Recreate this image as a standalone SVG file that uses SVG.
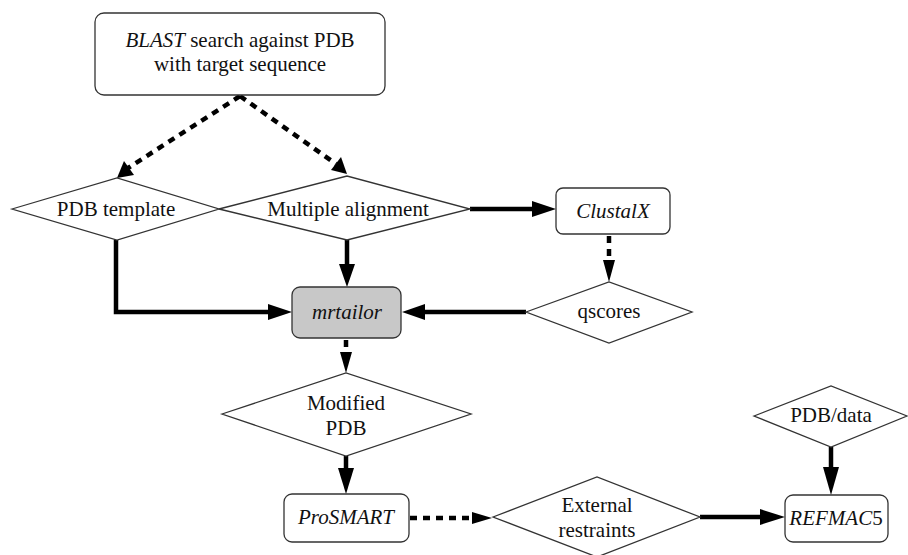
<svg xmlns="http://www.w3.org/2000/svg" width="908" height="555" viewBox="0 0 908 555">
<defs>
<style>
.box{fill:#fff;stroke:#333;stroke-width:1.3}
.gray{fill:#c8c8c8}
.dia{fill:#fff;stroke:#333;stroke-width:1.3}
.t{font-family:'Liberation Serif','Times New Roman',Times,'DejaVu Serif',serif;font-size:21px;fill:#111;text-anchor:middle}
.i{font-style:italic}
.solid{fill:none;stroke:#000;stroke-width:4.5}
.dash{fill:none;stroke:#000;stroke-width:4.5;stroke-dasharray:7,6}
.head{fill:#000}
</style>
</defs>
<rect width="908" height="555" fill="#fff"/>
<g id="connectors">
<path class="dash" d="M240,96 L128,168"/>
<polygon class="head" points="117,178 124,161 134,175"/>
<path class="dash" d="M240,96 L336,164"/>
<polygon class="head" points="347,174 331,170 341,157"/>
<path class="solid" d="M347,240 L347,266"/>
<polygon class="head" points="347,287 339,264 355,264"/>
<path class="solid" d="M116,240 L116,312 L270,312"/>
<polygon class="head" points="292,312 268,304 268,320"/>
<path class="solid" d="M470,209 L534,209"/>
<polygon class="head" points="556,209 532,201 532,217"/>
<path class="dash" d="M609,236 L609,262"/>
<polygon class="head" points="609,282 603,260 615,260"/>
<path class="solid" d="M526,312 L424,312"/>
<polygon class="head" points="402,312 425,304 425,320"/>
<path class="dash" d="M346,340 L346,354"/>
<polygon class="head" points="346,373 340,352 352,352"/>
<path class="solid" d="M346,456 L346,470"/>
<polygon class="head" points="346,494 338,468 354,468"/>
<path class="dash" d="M410,518 L474,518"/>
<polygon class="head" points="492,518 472,512 472,524"/>
<path class="solid" d="M700,517 L762,517"/>
<polygon class="head" points="785,517 760,509 760,525"/>
<path class="solid" d="M831,447 L831,469"/>
<polygon class="head" points="831,495 823,467 839,467"/>
</g>
<g id="blast">
<rect class="box" x="95" y="13" width="290" height="82" rx="9"/>
<text class="t" x="240" y="47" font-family="Liberation Serif, serif"><tspan class="i">BLAST</tspan> search against PDB</text>
<text class="t" x="240" y="71" font-family="Liberation Serif, serif">with target sequence</text>
</g>
<g id="pdbtemplate">
<polygon class="dia" points="12,209 117,178 219,209 117,240"/>
<text class="t" x="116" y="216">PDB template</text>
</g>
<g id="multalign">
<polygon class="dia" points="219,209 347,176 470,209 347,240"/>
<text class="t" x="348" y="216">Multiple alignment</text>
</g>
<g id="clustalx">
<rect class="box" x="556" y="188" width="114" height="46" rx="7"/>
<text class="t i" x="613" y="218">ClustalX</text>
</g>
<g id="mrtailor">
<rect class="box gray" x="292" y="287" width="109" height="51" rx="8"/>
<text class="t i" x="347" y="319">mrtailor</text>
</g>
<g id="qscores">
<polygon class="dia" points="526,312 609,282 692,312 609,343"/>
<text class="t" x="609" y="318">qscores</text>
</g>
<g id="modpdb">
<polygon class="dia" points="222,414 346,373 471,414 346,456"/>
<text class="t" x="346" y="410">Modified</text>
<text class="t" x="346" y="435">PDB</text>
</g>
<g id="prosmart">
<rect class="box" x="284" y="494" width="125" height="48" rx="8"/>
<text class="t i" x="346" y="524">ProSMART</text>
</g>
<g id="extrestraints">
<polygon class="dia" points="493,517 597,477 700,517 597,557"/>
<text class="t" x="597" y="512">External</text>
<text class="t" x="597" y="537">restraints</text>
</g>
<g id="pdbdata">
<polygon class="dia" points="754,416 831,386 907,416 831,447"/>
<text class="t" x="831" y="422">PDB/data</text>
</g>
<g id="refmac">
<rect class="box" x="785" y="495" width="103" height="47" rx="8"/>
<text class="t" x="836" y="525"><tspan class="i">REFMAC</tspan>5</text>
</g>
</svg>
